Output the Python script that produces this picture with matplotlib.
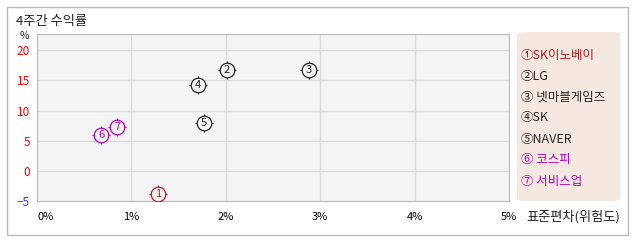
import matplotlib.pyplot as plt
from matplotlib.patches import FancyBboxPatch, Rectangle

plt.rcParams['font.family'] = ['Noto Sans CJK KR', 'DejaVu Sans']

names = ['SK이노베이', 'LG', ' 넷마블게임즈', 'SK', 'NAVER', ' 코스피', ' 서비스업']
labels = ['①', '②', '③', '④', '⑤', '⑥', '⑦']
risk = [1.28, 2.01, 2.88, 1.71, 1.77, 0.68, 0.85]
ret = [-3.8, 16.7, 16.7, 14.2, 8.0, 6.0, 7.3]
colors = ['#b01c1c', '#222222', '#222222', '#222222', '#222222', '#b000c0', '#b000c0']

yticks = [-5, 0, 5, 10, 15, 20]
xticks = [0, 1, 2, 3, 4, 5]

W, H = 638, 242
fig = plt.figure(figsize=(W / 100, H / 100), dpi=100)

def fx(px):
    return px / W

def fy(py):
    return 1 - py / H

# outer frame
fig.patches.append(Rectangle((fx(6.5), fy(235)), fx(621), 228 / H, transform=fig.transFigure,
                             fill=False, edgecolor='#bbbbbb', linewidth=1))

ax = fig.add_axes([fx(37), fy(201), fx(509 - 37), (201 - 34) / H])
ax.set_facecolor('#f4f4f4')
ax.set_xlim(0, 5)
ax.set_ylim(-5, 22.7)
ax.set_xticks(xticks)
ax.set_xticklabels([f'{v}%' for v in xticks], fontsize=8)
ax.set_yticks(yticks)
ax.set_yticklabels([str(v).replace('-', '\u2212') for v in yticks], fontsize=8.5)
for t, v in zip(ax.get_yticklabels(), yticks):
    t.set_color('#3333ff' if v < 0 else '#ff0000')
ax.get_xticklabels()[0].set_ha('left')
ax.tick_params(length=0, pad=8)
ax.tick_params(axis='y', pad=5)
ax.grid(True, color='#dcdcdc', linewidth=1)
ax.set_axisbelow(True)
for s in ax.spines.values():
    s.set_color('#bbbbbb')

# circled markers with small cross stubs
for i, (x, y, c) in enumerate(zip(risk, ret, colors)):
    ax.plot(x, y, marker='+', markersize=13, color=c, mew=0.8, zorder=3)
    ax.plot(x, y, marker='o', markersize=10.5, markerfacecolor='#f4f4f4',
            markeredgecolor=c, mew=0.9, zorder=4)
    ax.text(x, y, str(i + 1), color=c, fontsize=8,
            ha='center', va='center', zorder=5)

fig.text(fx(16), fy(22), '4주간 수익률', fontsize=9.5, color='#222222', va='center')
fig.text(fx(24), fy(36), '%', fontsize=7.5, color='#222222', va='center', ha='center')
fig.text(fx(526), fy(217), '표준편차(위험도)', fontsize=9.5, color='#222222', va='center')

# legend box
fig.patches.append(FancyBboxPatch((fx(517), fy(201)), fx(620 - 517), (201 - 32) / H,
                                  boxstyle='round,pad=0,rounding_size=0.012',
                                  transform=fig.transFigure, facecolor='#f5e8e0',
                                  edgecolor='none'))
leg_y = [55, 76, 97, 118, 139, 160, 181]
for ly, lab, name, c in zip(leg_y, labels, names, colors):
    fig.text(fx(521), fy(ly), lab + name, fontsize=9, color=c, va='center')

fig.savefig('out.png', dpi=100)
